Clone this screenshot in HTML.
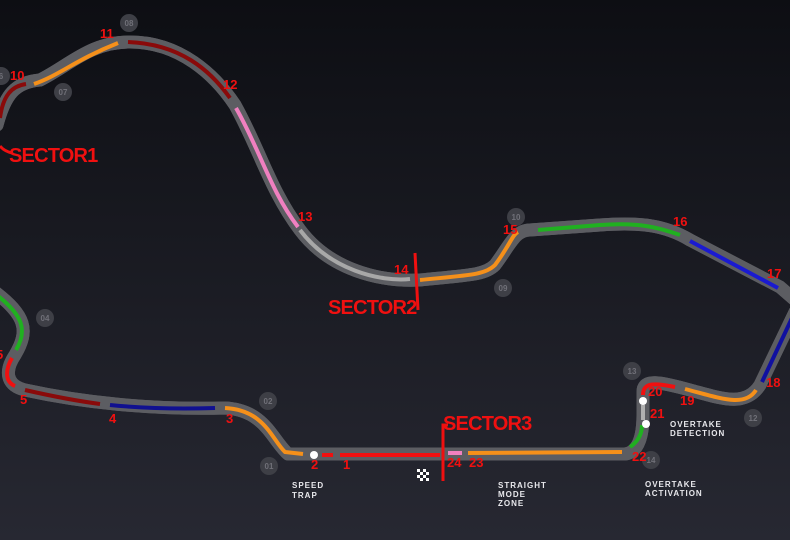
<!DOCTYPE html>
<html><head><style>
html,body{margin:0;padding:0;width:790px;height:540px;overflow:hidden;background:#15161d}
svg{display:block}
.n{font:bold 13px "Liberation Sans",sans-serif;fill:#f01010}
.g{font:bold 8px "Liberation Sans",sans-serif;fill:#707078;text-anchor:middle}
.s{font:bold 20px "Liberation Sans",sans-serif;fill:#f01010;letter-spacing:-0.8px}
.w{font:bold 8px "Liberation Sans",sans-serif;fill:#e8e8ec;letter-spacing:1px}
</style></head><body>
<svg width="790" height="540" viewBox="0 0 790 540" xmlns="http://www.w3.org/2000/svg">
<defs><linearGradient id="bg" x1="0" y1="0" x2="0" y2="1">
<stop offset="0" stop-color="#0d0e13"/><stop offset="1" stop-color="#272832"/></linearGradient></defs>
<rect width="790" height="540" fill="url(#bg)"/>
<g fill="none" stroke-linecap="round" stroke-linejoin="round">
<path id="a" d="M-5,292 C25,315 30,330 15,355 C5,370 5,385 25,390 C80,402 150,410 225,408 C265,410 272,440 288,454 L625,454 C640,452 643,432 643,415 L643,392 C643,378 660,382 690,390 C720,398 745,408 760,385 L795,312" stroke="#5c5d62" stroke-width="13"/>
<path id="b" d="M795,300 L780,287 L690,240 C665,225 640,222 600,225 L530,230 C515,230 510,245 495,265 C485,275 470,275 420,280 C380,282 330,270 300,230 C270,190 260,150 235,105 C215,75 180,42 130,42 C90,42 70,65 40,80 C15,82 5,95 -3,125" stroke="#5c5d62" stroke-width="13"/>
<use href="#a" stroke="#34353b" stroke-width="7"/>
<use href="#b" stroke="#34353b" stroke-width="7"/>
<g stroke-width="4" stroke-linecap="butt">
<path d="M322,455 L333,455 M340,455 L440,455" stroke="#f01010"/>
<path d="M448,453 L462,453" stroke="#f080c0"/>
<path d="M468,453 L622,452" stroke="#f5901a"/>
<path d="M630,447 C640,440 642,432 642,425" stroke="#20b020"/>
<path d="M643,405 L643,420" stroke="#b0b0b0"/>
<path d="M643,395 C643,382 655,383 675,387" stroke="#f01010"/>
<path d="M685,389 C720,398 745,408 756,390" stroke="#f5901a"/>
<path d="M762,382 L792,318" stroke="#1010a0"/>
<path d="M538,230 L600,225 C640,222 660,228 680,235" stroke="#20b020"/>
<path d="M690,241 L778,288" stroke="#1a1ad0"/>
<path d="M420,280 C470,275 485,275 495,265 C510,245 512,235 518,232" stroke="#f5901a"/>
<path d="M300,230 C330,270 380,282 410,279" stroke="#a8a8a8"/>
<path d="M236,108 C260,150 270,190 298,227" stroke="#f080c0"/>
<path d="M128,42 C180,44 210,70 230,98" stroke="#8a0a0a"/>
<path d="M34,84 C60,75 75,60 118,43" stroke="#f5901a"/>
<path d="M0,118 C3,95 12,86 26,84" stroke="#8a0a0a"/>
<path d="M-2,296 C22,315 28,330 16,350" stroke="#20b020"/>
<path d="M12,358 C5,370 5,382 15,386" stroke="#f01010"/>
<path d="M25,390 C60,398 85,402 100,404" stroke="#8a0a0a"/>
<path d="M110,405 C150,409 185,409 215,408" stroke="#101090"/>
<path d="M225,408 C265,410 272,440 285,452 L303,454" stroke="#f5901a"/>
</g>
</g>
<circle cx="314" cy="455" r="4" fill="#fff"/>
<circle cx="646" cy="424" r="4" fill="#fff"/>
<circle cx="643" cy="401" r="4" fill="#fff"/>
<g fill="#3e3f46">
<circle cx="129" cy="23" r="9"/><circle cx="63" cy="92" r="9"/><circle cx="1" cy="76" r="9"/>
<circle cx="516" cy="217" r="9"/><circle cx="503" cy="288" r="9"/><circle cx="632" cy="371" r="9"/>
<circle cx="753" cy="418" r="9"/><circle cx="651" cy="460" r="9"/><circle cx="45" cy="318" r="9"/>
<circle cx="268" cy="401" r="9"/><circle cx="269" cy="466" r="9"/>
</g>
<g class="g">
<text x="129" y="26">08</text><text x="63" y="95">07</text><text x="1" y="79">6</text>
<text x="516" y="220">10</text><text x="503" y="291">09</text><text x="632" y="374">13</text>
<text x="753" y="421">12</text><text x="651" y="463">14</text><text x="45" y="321">04</text>
<text x="268" y="404">02</text><text x="269" y="469">01</text>
</g>
<g class="n">
<text x="100" y="38">11</text><text x="10" y="80">10</text><text x="223" y="89">12</text>
<text x="298" y="221">13</text><text x="394" y="274">14</text><text x="503" y="234">15</text>
<text x="673" y="226">16</text><text x="767" y="278">17</text><text x="766" y="387">18</text>
<text x="680" y="405">19</text><text x="648" y="396">20</text><text x="650" y="418">21</text>
<text x="632" y="461">22</text><text x="469" y="467">23</text><text x="447" y="467">24</text>
<text x="311" y="469">2</text><text x="343" y="469">1</text><text x="226" y="423">3</text>
<text x="109" y="423">4</text><text x="20" y="404">5</text><text x="-4" y="359">5</text>
</g>
<path d="M0,146 Q4,151 12,153" stroke="#f01010" stroke-width="3" fill="none"/>
<text class="s" x="9" y="162">SECTOR1</text>
<path d="M415,253 L418,310" stroke="#f01010" stroke-width="3"/>
<text class="s" x="328" y="314">SECTOR2</text>
<path d="M443,481 L443,425 L448,425" stroke="#f01010" stroke-width="3" fill="none"/>
<text class="s" x="443" y="430">SECTOR3</text>
<g fill="#fff">
<rect x="417" y="469" width="3" height="3"/><rect x="423" y="469" width="3" height="3"/>
<rect x="420" y="472" width="3" height="3"/><rect x="426" y="472" width="3" height="3"/>
<rect x="417" y="475" width="3" height="3"/><rect x="423" y="475" width="3" height="3"/>
<rect x="420" y="478" width="3" height="3"/><rect x="426" y="478" width="3" height="3"/>
</g>
<g class="w">
<text x="292" y="488">SPEED</text><text x="292" y="498">TRAP</text>
<text x="498" y="488">STRAIGHT</text><text x="498" y="497">MODE</text><text x="498" y="506">ZONE</text>
<text x="670" y="427">OVERTAKE</text><text x="670" y="436">DETECTION</text>
<text x="645" y="487">OVERTAKE</text><text x="645" y="496">ACTIVATION</text>
</g>
</svg>
</body></html>
